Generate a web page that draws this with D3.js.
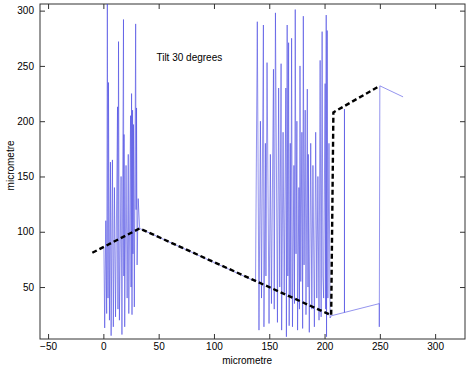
<!DOCTYPE html>
<html>
<head>
<meta charset="utf-8">
<script src="https://cdn.jsdelivr.net/npm/d3@7"></script>
<style>
  body { margin: 0; background: #fff; }
  text { font-family: "Liberation Sans", Arial, sans-serif; }
</style>
</head>
<body>
<div id="chart"></div>
<script>
// measured profile (blue trace)
const profileX = [
  0.5, 1.2, 2.2, 3, 3.6, 4.2, 4.6, 5.5, 6.4, 7, 8.2, 9, 10, 11, 12.8, 13.2, 13.7, 14.5, 16, 16.8,
  18.2, 18.5, 18.7, 19.3, 20.5, 21.5, 22.5, 23, 24.6, 25, 25.5, 25.9, 26.4, 26.8, 27.3, 28,
  29.2, 29.6, 30, 30.5, 31.5, 32.8,
  137.6, 139.2, 140.7, 142, 143, 144.7, 145.2, 146.5, 147, 148, 149.8, 151, 152, 153.8, 154.5,
  155.6, 157.4, 158.5, 159.5, 160.7, 161.2, 162.5, 163.5, 165, 165.5, 166.2, 166.8, 167.5, 168,
  169, 169.5, 170.2, 171, 172.3, 172.8, 173.5, 174.2, 175, 175.6, 176.8, 177.3, 177.8, 178.5,
  179.5, 180.2, 180.8, 181.5, 182.5, 183.2, 184.4, 185, 185.3, 186.2, 187.5, 188.5, 189.5, 190.8,
  192, 193, 194, 195, 196, 196.9, 197.8, 198.5, 199.2, 200.5, 201, 201.5, 201.8, 202.4, 203,
  204, 205, 206,
  218, 218, 218, 249.5, 249.5, 250, 271
];
const profileY = [
  85, 13, 110, 26, 310, 40, 235, 20, 163, 6, 165, 14, 140, 23, 213, 30, 272, 20, 150, 7,
  292, 60, 188, 14, 160, 40, 170, 26, 205, 50, 225, 25, 210, 80, 197, 32,
  288, 120, 212, 70, 130, 103,
  55, 290, 11, 200, 40, 287, 14, 180, 60, 253, 17, 170, 35, 247, 30,
  298, 18, 230, 50, 252, 11, 190, 45, 230, 5, 287, 60, 271, 15,
  180, 40, 275, 14, 160, 35, 301, 80, 200, 11, 140, 30, 250, 55,
  190, 12.5, 295, 70, 210, 25, 229, 50, 170, 9, 180, 30, 160, 14,
  190, 40, 150, 20, 255, 23, 281, 60, 40, 234, 30, 296, 5, 282, 40,
  180, 22, 24,
  27, 211, 27, 35, 14, 232, 222
];

// fitted tilt line (black dashed)
const fitX = [-10, 32.8, 206, 208, 250];
const fitY = [81, 103, 24.5, 208, 232];

const xTicks = [-50, 0, 50, 100, 150, 200, 250, 300];
const yTicks = [50, 100, 150, 200, 250, 300];

const width = 468, height = 365;
const margin = { top: 4, right: 3, bottom: 26, left: 40 };
const innerW = width - margin.left - margin.right;
const innerH = height - margin.top - margin.bottom;

const svg = d3.select('#chart').append('svg')
  .attr('width', width)
  .attr('height', height);

const g = svg.append('g')
  .attr('transform', `translate(${margin.left},${margin.top})`);

const x = d3.scaleLinear().domain([-57.3, 327]).range([0, innerW]);
const y = d3.scaleLinear().domain([3, 306]).range([innerH, 0]);

g.append('clipPath').attr('id', 'clip')
  .append('rect').attr('width', innerW).attr('height', innerH);

// axes, ticks pointing inward like matlab
const styleAxis = sel => {
  sel.select('.domain').remove();
  sel.selectAll('line').attr('stroke', '#333');
  sel.selectAll('text').attr('font-size', 10).attr('fill', '#000');
};
g.append('g').attr('transform', `translate(0,${innerH})`)
  .call(d3.axisBottom(x).tickValues(xTicks).tickSize(-5).tickPadding(4))
  .call(styleAxis);
g.append('g')
  .call(d3.axisTop(x).tickValues(xTicks).tickSize(-5).tickFormat(''))
  .call(styleAxis);
g.append('g')
  .call(d3.axisLeft(y).tickValues(yTicks).tickSize(-5).tickPadding(6))
  .call(styleAxis);
g.append('g').attr('transform', `translate(${innerW},0)`)
  .call(d3.axisRight(y).tickValues(yTicks).tickSize(-5).tickFormat(''))
  .call(styleAxis);

g.append('rect')
  .attr('width', innerW).attr('height', innerH)
  .attr('fill', 'none').attr('stroke', '#333').attr('stroke-width', 1);

const profile = profileX.map((d, i) => [d, profileY[i]]);
const fit = fitX.map((d, i) => [d, fitY[i]]);
const line = d3.line().x(d => x(d[0])).y(d => y(d[1]));

g.append('path')
  .datum(profile)
  .attr('clip-path', 'url(#clip)')
  .attr('fill', 'none')
  .attr('stroke', '#3a3ae0')
  .attr('stroke-width', 0.55)
  .attr('d', line);

g.append('path')
  .datum(fit)
  .attr('fill', 'none')
  .attr('stroke', '#000')
  .attr('stroke-width', 2.4)
  .attr('stroke-dasharray', '5,3')
  .attr('d', line);

g.append('text')
  .attr('x', x(48))
  .attr('y', y(254))
  .attr('font-size', 10)
  .text('Tilt 30 degrees');

// axis labels
svg.append('text')
  .attr('x', margin.left + x(130))
  .attr('y', height - 1)
  .attr('text-anchor', 'middle')
  .attr('font-size', 10)
  .text('micrometre');

svg.append('text')
  .attr('transform', 'rotate(-90)')
  .attr('x', -(margin.top + y(160)))
  .attr('y', 14)
  .attr('text-anchor', 'middle')
  .attr('font-size', 10)
  .text('micrometre');
</script>
</body>
</html>
